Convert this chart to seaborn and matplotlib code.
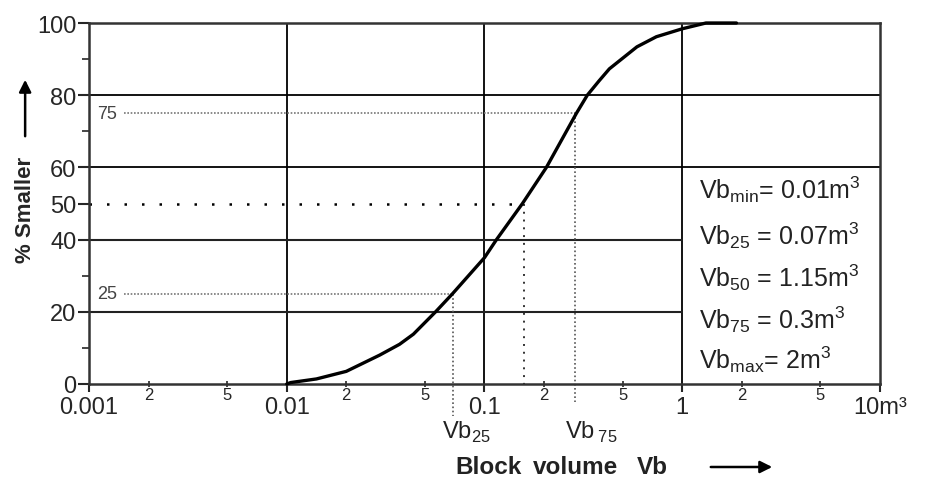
import numpy as np
import pandas as pd
import seaborn as sns
import matplotlib.pyplot as plt
from matplotlib.patches import FancyArrowPatch

# block volume distribution curve
vol = [0.01, 0.01047, 0.01413, 0.02, 0.0295, 0.0372, 0.0437, 0.0566, 0.0689, 0.1,
       0.115, 0.1556, 0.2056, 0.2917, 0.331, 0.38, 0.428, 0.59, 0.74, 1.0, 1.318, 1.88]
pct = [0, 0.4, 1.4, 3.5, 8.0, 11.0, 13.8, 20, 25, 35,
       40, 50, 60, 75, 80, 84, 87.3, 93.4, 96.2, 98.4, 100, 100]

q_pct = [25, 50, 75]
q_vol = [0.069, 0.158, 0.287]

box_lines = [r"Vb$_{\mathregular{min}}$= 0.01m$^{\mathregular{3}}$",
             r"Vb$_{\mathregular{25}}$ = 0.07m$^{\mathregular{3}}$",
             r"Vb$_{\mathregular{50}}$ = 1.15m$^{\mathregular{3}}$",
             r"Vb$_{\mathregular{75}}$ = 0.3m$^{\mathregular{3}}$",
             r"Vb$_{\mathregular{max}}$= 2m$^{\mathregular{3}}$"]

x_major = [0.001, 0.01, 0.1, 1, 10]
x_major_lbl = ["0.001", "0.01", "0.1", "1", "10m³"]
x_minor = [0.002, 0.005, 0.02, 0.05, 0.2, 0.5, 2, 5]
x_minor_lbl = ["2", "5", "2", "5", "2", "5", "2", "5"]
y_major = [0, 20, 40, 50, 60, 80, 100]
y_minor = [10, 30, 70, 90]

sns.set_style("ticks")
plt.rcParams['font.family'] = ['Liberation Sans', 'DejaVu Sans']
plt.rcParams['mathtext.fontset'] = 'custom'
plt.rcParams['mathtext.rm'] = 'Liberation Sans'

fig = plt.figure(figsize=(9.31, 4.85), dpi=100)
ax = fig.add_axes([0.0956, 0.2062, 0.8496, 0.7443])

df = pd.DataFrame({"vol": vol, "pct": pct})

# grid (manual, partial lines next to the text box)
for gx in [0.01, 0.1, 1]:
    ax.axvline(gx, color="k", lw=1.3, zorder=1)
for gy in [20, 40]:
    ax.axhline(gy, xmin=0, xmax=0.75, color="#222222", lw=1.5, zorder=1)
for gy in [60, 80]:
    ax.axhline(gy, color="k", lw=1.3, zorder=1)

# quantile dotted guides
ax.plot([0.0015, q_vol[0]], [q_pct[0]] * 2, ls=(0, (1, 1)), color="#777777", lw=1.2)
ax.plot([q_vol[0]] * 2, [q_pct[0], -9], ls=(0, (1, 1.5)), color="#555555", lw=1.2, clip_on=False)
ax.plot([0.001, q_vol[1]], [q_pct[1]] * 2, ls=(0, (1, 6)), color="k", lw=1.8)
ax.plot([q_vol[1]] * 2, [q_pct[1], 0], ls=(0, (1, 3)), color="#333333", lw=1.4)
ax.plot([0.0015, q_vol[2]], [q_pct[2]] * 2, ls=(0, (1, 1)), color="#777777", lw=1.2)
ax.plot([q_vol[2]] * 2, [q_pct[2], -5], ls=(0, (1, 1.5)), color="#555555", lw=1.2, clip_on=False)

sns.lineplot(data=df, x="vol", y="pct", ax=ax, color="k", lw=2.4,
             sort=False, estimator=None, zorder=5, clip_on=False)

ax.set_xscale("log")
ax.set_xlim(0.001, 10)
ax.set_ylim(0, 100)

ax.set_xticks(x_major)
ax.set_xticklabels(x_major_lbl, fontsize=17)
ax.set_xticks(x_minor, minor=True)
ax.set_xticklabels(x_minor_lbl, minor=True, fontsize=12)
ax.tick_params(axis="x", which="major", length=6, width=1.5, pad=3)
ax.tick_params(axis="x", which="minor", length=5, width=1.2, pad=0, direction="inout")
ax.set_yticks(y_major)
ax.set_yticklabels([str(v) for v in y_major], fontsize=17)
ax.set_yticks(y_minor, minor=True)
ax.tick_params(axis="y", which="major", length=8, width=1.5, pad=1)
ax.tick_params(axis="y", which="minor", length=5, width=1.2)

for s in ax.spines.values():
    s.set_linewidth(1.8)
    s.set_color("#333333")

ax.set_xlabel("")
ax.set_ylabel("")

ax.text(0.0011, 75, "75", fontsize=13, color="#444444", va="center", ha="left",
        bbox=dict(facecolor="white", edgecolor="none", pad=0.5))
ax.text(0.0011, 25, "25", fontsize=13, color="#444444", va="center", ha="left",
        bbox=dict(facecolor="white", edgecolor="none", pad=0.5))

ax.text(0.081, -13, r"Vb$_{\mathregular{25}}$", fontsize=17, ha="center", va="center", color="#222222")
ax.text(0.345, -13, r"Vb$\,_{\mathregular{75}}$", fontsize=17, ha="center", va="center", color="#222222")

box_y = [54, 41.3, 29.6, 18, 6.9]
for t, yy in zip(box_lines, box_y):
    ax.text(1.22, yy, t, fontsize=18, ha="left", va="center", color="#222222")

# axis titles with arrows
fig.text(0.027, 1 - 210 / 485, "% Smaller", rotation=90, fontsize=16, fontweight="bold",
         ha="center", va="center")
fig.add_artist(FancyArrowPatch(
    (0.027, 1 - 140 / 485), (0.027, 1 - 78 / 485), transform=fig.transFigure,
    arrowstyle="-|>", mutation_scale=18, lw=1.8, color="k"))
for word, px in zip(["Block", "volume", "Vb"], [455, 533, 637]):
    fig.text(px / 931, 1 - 468 / 485, word, fontsize=17.5, fontweight="bold",
             ha="left", va="center", color="#222222")
fig.add_artist(FancyArrowPatch(
    (708 / 931, 1 - 468 / 485), (775 / 931, 1 - 468 / 485), transform=fig.transFigure,
    arrowstyle="-|>", mutation_scale=18, lw=1.8, color="k"))

fig.savefig("out.png", dpi=100)
